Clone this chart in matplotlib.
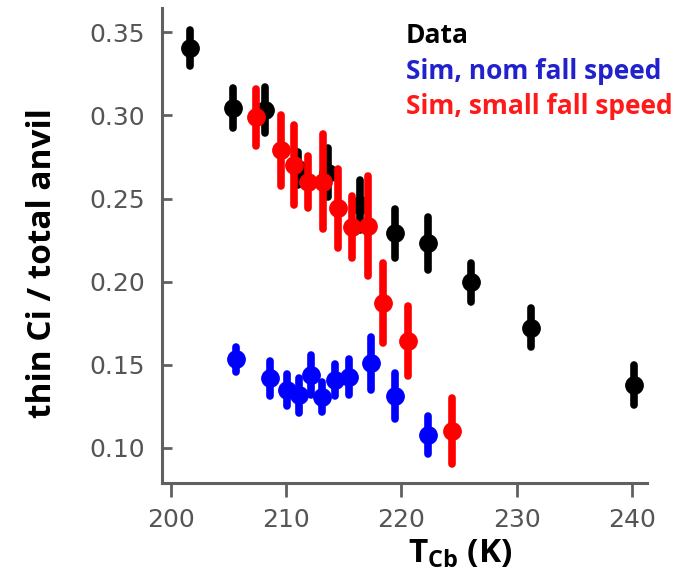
import matplotlib
matplotlib.use("Agg")
import matplotlib.pyplot as plt

plt.rcParams['mathtext.fontset'] = 'custom'
plt.rcParams['mathtext.bf'] = 'Open Sans:bold'
plt.rcParams['mathtext.rm'] = 'Open Sans:bold'

# Data (observations)
data_T = [201.65, 205.41, 208.16, 211.02, 213.65, 216.41, 219.47, 222.34, 226.02, 231.25, 240.22]
data_y = [0.3407, 0.3046, 0.3032, 0.268, 0.2656, 0.246, 0.229, 0.223, 0.1995, 0.1722, 0.138]
data_err = [0.0107, 0.012, 0.0137, 0.010, 0.0147, 0.015, 0.0147, 0.016, 0.0115, 0.0117, 0.012]

# Sim, nominal fall speed
nom_T = [205.64, 208.59, 210.04, 211.14, 212.13, 213.08, 214.24, 215.48, 217.33, 219.44, 222.34]
nom_y = [0.1534, 0.1418, 0.1347, 0.1317, 0.1437, 0.1307, 0.1407, 0.1427, 0.1508, 0.1311, 0.1076]
nom_err = [0.0075, 0.0105, 0.0096, 0.0105, 0.012, 0.009, 0.0096, 0.011, 0.016, 0.014, 0.0115]

# Sim, small fall speed
small_T = [207.38, 209.55, 210.70, 211.92, 213.17, 214.47, 215.69, 217.13, 218.43, 220.60, 224.37]
small_y = [0.2988, 0.279, 0.270, 0.260, 0.260, 0.244, 0.233, 0.2336, 0.187, 0.1644, 0.1102]
small_err = [0.0173, 0.0215, 0.024, 0.0155, 0.0286, 0.0235, 0.0185, 0.030, 0.024, 0.021, 0.020]

xticks = [200, 210, 220, 230, 240]
yticks = [0.10, 0.15, 0.20, 0.25, 0.30, 0.35]

fig = plt.figure(figsize=(7, 5.75), dpi=100)
ax = fig.add_axes([0.231, 0.1605, 0.693, 0.8255])

series = [
    (data_T, data_y, data_err, 'black', 2),
    (nom_T, nom_y, nom_err, '#0000ff', 3),
    (small_T, small_y, small_err, '#ff0000', 4),
]
for xs, ys, es, col, z in series:
    eb = ax.errorbar(xs, ys, yerr=es, fmt='o', color=col, ms=12.5,
                     elinewidth=5.5, capsize=0, zorder=z)
    for lc in eb[2]:
        lc.set_capstyle('round')

ax.set_xlim(199.2, 241.3)
ax.set_ylim(0.079, 0.3646)
ax.set_xticks(xticks)
ax.set_yticks(yticks)
ax.set_yticklabels(['%.2f' % v for v in yticks])

for s in ['top', 'right']:
    ax.spines[s].set_visible(False)
for s in ['left', 'bottom']:
    ax.spines[s].set_color('#606060')
    ax.spines[s].set_linewidth(2.2)

ax.tick_params(axis='x', direction='out', length=10, width=2, color='#606060',
               labelsize=18, labelcolor='#555555', pad=8)
ax.tick_params(axis='y', direction='in', length=7, width=2, color='#606060',
               labelsize=18, labelcolor='#555555', pad=12)
for lab in ax.get_xticklabels() + ax.get_yticklabels():
    lab.set_family('DejaVu Sans')

ax.set_ylabel('thin Ci / total anvil', fontsize=24, fontweight='bold',
              family='Open Sans')
ax.yaxis.set_label_coords(-0.212, 0.463)
ax.set_xlabel(r'T$_{\mathbf{Cb}}$ (K)', fontsize=24, fontweight='bold',
              family='Open Sans')
ax.xaxis.set_label_coords(0.615, -0.115)

fig.text(0.58, 0.939, 'Data', color='black', fontsize=19, fontweight='bold',
         family='Open Sans', va='center')
fig.text(0.58, 0.875, 'Sim, nom fall speed', color='#2222cc', fontsize=19,
         fontweight='bold', family='Open Sans', va='center')
fig.text(0.58, 0.814, 'Sim, small fall speed', color='#ff1a1a', fontsize=19,
         fontweight='bold', family='Open Sans', va='center')

fig.savefig('out.png', dpi=100)
